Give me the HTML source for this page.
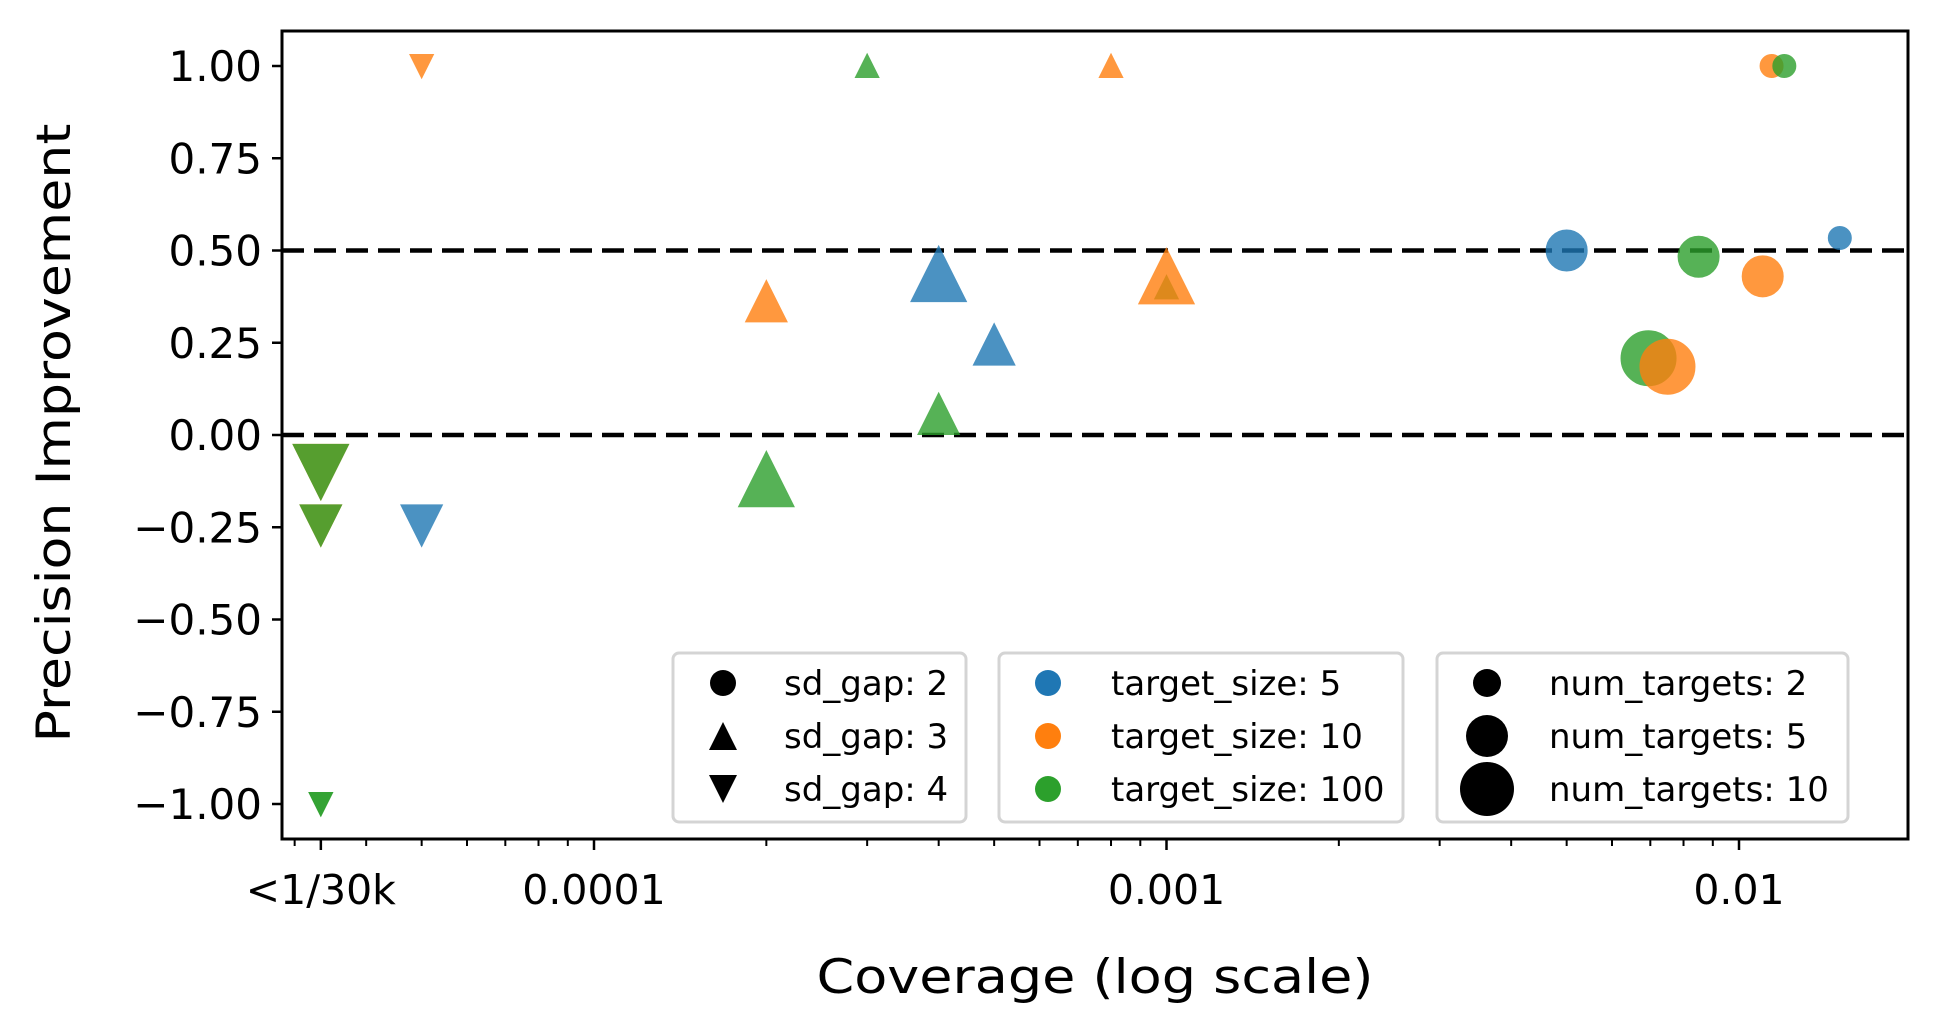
<!DOCTYPE html>
<html><head><meta charset="utf-8"><style>
body{margin:0;background:#fff}
svg{display:block;font-family:"DejaVu Sans","Liberation Sans",sans-serif}
</style></head><body>
<svg id="chart" width="1937" height="1033" viewBox="0 0 1937 1033" xmlns="http://www.w3.org/2000/svg">
<rect width="1937" height="1033" fill="#fff"/>
<g id="grid"></g>
<g id="marks"></g>
<g id="axes"></g>
<g id="legends"></g>
</svg>
<script>
const xs   = [5e-5, 3e-4, 8e-4, 0.0114, 0.012, 0.015, 0.005, 0.0085, 0.011, 0.00695, 0.0075, 4e-4, 0.001, 0.001, 2e-4, 5e-4, 4e-4, 2e-4, 3.333e-5, 3.333e-5, 3.333e-5, 3.333e-5, 5e-5, 3.333e-5, 3.333e-5];
const ys   = [1.0, 1.0, 1.0, 1.0, 1.0, 0.534, 0.50, 0.483, 0.43, 0.208, 0.185, 0.436, 0.40, 0.43, 0.362, 0.245, 0.057, -0.12, -0.10, -0.10, -0.245, -0.245, -0.245, -1.0, -1.0];
const sdGap   = [4, 3, 3, 2, 2, 2, 2, 2, 2, 2, 2, 3, 3, 3, 3, 3, 3, 3, 4, 4, 4, 4, 4, 4, 4];
const tSize   = [10, 100, 10, 10, 100, 5, 5, 100, 10, 100, 10, 5, 100, 10, 10, 5, 100, 100, 10, 100, 10, 100, 5, 100, 100];
const nTarget = [2, 2, 2, 2, 2, 2, 5, 5, 5, 10, 10, 10, 2, 10, 5, 5, 5, 10, 10, 10, 5, 5, 5, 2, 2];
const yTicks = [1.0, 0.75, 0.5, 0.25, 0.0, -0.25, -0.5, -0.75, -1.0];
const yTickLabels = ["1.00","0.75","0.50","0.25","0.00","\u22120.25","\u22120.50","\u22120.75","\u22121.00"];
const xTicks = [1/30000, 1e-4, 1e-3, 1e-2];
const xTickLabels = ["<1/30k","0.0001","0.001","0.01"];
const refLines = [0.5, 0.0];

const NS="http://www.w3.org/2000/svg";
const L=282,R=1908,T=31,B=839;
function X(v){return 594+(Math.log10(v)+4)*572.5;}
function Y(v){return 435-v*369;}
const colors={5:"#1f77b4",10:"#ff7f0e",100:"#2ca02c"};
const radius={2:11,5:20,10:27};
function el(tag,attrs,parent){const e=document.createElementNS(NS,tag);for(const k in attrs)e.setAttribute(k,attrs[k]);parent.appendChild(e);return e;}
function markerPath(shape,cx,cy,r){
  if(shape===3)return `M${cx},${cy-r} L${cx-r},${cy+r} L${cx+r},${cy+r} Z`;
  if(shape===4)return `M${cx},${cy+r} L${cx-r},${cy-r} L${cx+r},${cy-r} Z`;
  return null;
}
const grid=document.getElementById('grid'),marks=document.getElementById('marks'),axes=document.getElementById('axes'),legends=document.getElementById('legends');

refLines.forEach(v=>{
  const l=el('line',{x1:L,x2:R,y1:Y(v),y2:Y(v),stroke:'#000','stroke-width':4.5,'stroke-dasharray':'22 10'},grid);
  
  
});

for(let i=0;i<xs.length;i++){
  const cx=X(xs[i]),cy=Y(ys[i]),r=radius[nTarget[i]],c=colors[tSize[i]];
  let m;
  if(sdGap[i]===2){m=el('circle',{cx:cx,cy:cy,r:r,fill:c,stroke:c,'stroke-width':2,opacity:0.8},marks);}
  else{m=el('path',{d:markerPath(sdGap[i],cx,cy,r),fill:c,stroke:c,'stroke-width':2,opacity:0.8},marks);}
  
  
}

const frame=el('rect',{x:L,y:T,width:R-L,height:B-T,fill:'none',stroke:'#000','stroke-width':3},axes);



yTicks.forEach((v,i)=>{
  el('line',{x1:L-10,x2:L,y1:Y(v),y2:Y(v),stroke:'#000','stroke-width':2.5},axes);
  const t=el('text',{x:L-20,y:Y(v)+15,'text-anchor':'end','font-size':42,fill:'#000'},axes);
  t.textContent=yTickLabels[i];
  
  
});
for(let e=-5;e<=-2;e++){for(let k=2;k<=9;k++){const v=k*Math.pow(10,e);const px=X(v);if(px>L&&px<R){el('line',{x1:px,x2:px,y1:B,y2:B+7,stroke:'#000','stroke-width':2},axes);}}}
xTicks.forEach((v,i)=>{
  el('line',{x1:X(v),x2:X(v),y1:B,y2:B+11,stroke:'#000','stroke-width':2.5},axes);
  const t=el('text',{x:X(v),y:904,'text-anchor':'middle','font-size':41,fill:'#000'},axes);
  t.textContent=xTickLabels[i];
  
  
});
const xl=el('text',{x:1095,y:993,'text-anchor':'middle','font-size':47,fill:'#000',textLength:557,lengthAdjust:'spacingAndGlyphs'},axes);
xl.textContent='Coverage (log scale)';


const yl=el('text',{x:0,y:0,'text-anchor':'middle','font-size':47,fill:'#000',textLength:619,lengthAdjust:'spacingAndGlyphs',transform:'translate(70,433) rotate(-90)'},axes);
yl.textContent='Precision Improvement';



const rowsY=[683,736,789];
function legendBox(x1,x2,name){
  const b=el('rect',{x:x1,y:653,width:x2-x1,height:169,rx:6,fill:'#fff','fill-opacity':0.8,stroke:'#d4d4d4','stroke-width':3},legends);
  
  
}
function legendText(x,y,s){
  const t=el('text',{x:x,y:y+12,'font-size':34,fill:'#000'},legends);
  t.textContent=s;
  
  
}
legendBox(673,966,'legend-sd-gap');
el('circle',{cx:723,cy:rowsY[0],r:13,fill:'#000'},legends);
el('path',{d:markerPath(3,723,rowsY[1],14),fill:'#000'},legends);
el('path',{d:markerPath(4,723,rowsY[2],14),fill:'#000'},legends);
['sd_gap: 2','sd_gap: 3','sd_gap: 4'].forEach((s,i)=>legendText(784,rowsY[i],s));

legendBox(999,1403,'legend-target-size');
['#1f77b4','#ff7f0e','#2ca02c'].forEach((c,i)=>el('circle',{cx:1048,cy:rowsY[i],r:13,fill:c},legends));
['target_size: 5','target_size: 10','target_size: 100'].forEach((s,i)=>legendText(1111,rowsY[i],s));

legendBox(1437,1848,'legend-num-targets');
[14,21,27].forEach((r,i)=>el('circle',{cx:1487,cy:rowsY[i],r:r,fill:'#000'},legends));
['num_targets: 2','num_targets: 5','num_targets: 10'].forEach((s,i)=>legendText(1549,rowsY[i],s));
</script>
</body></html>
